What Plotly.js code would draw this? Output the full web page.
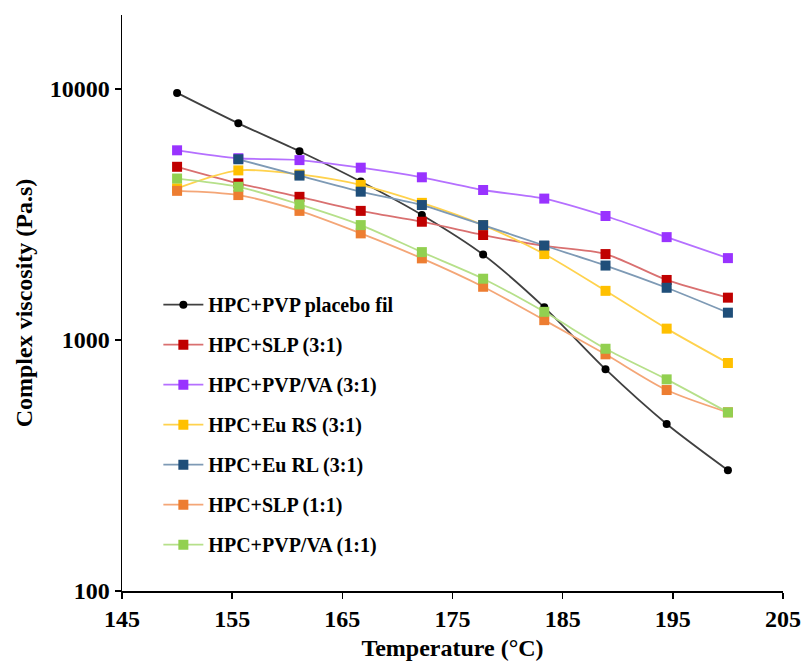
<!DOCTYPE html>
<html>
<head>
<meta charset="utf-8">
<script src="https://cdn.plot.ly/plotly-3.0.1.min.js"></script>
<style>html,body{margin:0;padding:0;background:#fff;}#chart{width:803px;height:664px;}</style>
</head>
<body>
<div id="chart"></div>
<script>
const temperature = [150, 155.56, 161.11, 166.67, 172.22, 177.78, 183.33, 188.89, 194.44, 200];
const seriesNames = ["HPC+PVP placebo fil", "HPC+SLP (3:1)", "HPC+PVP/VA (3:1)", "HPC+Eu RS (3:1)", "HPC+Eu RL (3:1)", "HPC+SLP (1:1)", "HPC+PVP/VA (1:1)"];
const placebo   = [9650, 7300, 5650, 4280, 3150, 2190, 1350, 765, 463, 303];
const slp31     = [4900, 4210, 3720, 3270, 2960, 2620, 2370, 2200, 1735, 1475];
const pvpva31   = [5700, 5300, 5210, 4860, 4450, 3960, 3660, 3120, 2570, 2120];
const euRS31    = [4020, 4740, 4570, 4150, 3520, 2870, 2200, 1570, 1110, 810];
const euRL31    = [null, 5250, 4520, 3900, 3450, 2870, 2380, 1980, 1615, 1285];
const slp11     = [3930, 3780, 3270, 2660, 2115, 1630, 1200, 877, 632, 515];
const pvpva11   = [4400, 4080, 3470, 2870, 2240, 1755, 1295, 923, 697, 515];

const values = [placebo, slp31, pvpva31, euRS31, euRL31, slp11, pvpva11];
const markerColors = ["#000000", "#C00000", "#9933FF", "#FFC000", "#1F4E79", "#ED7D31", "#92D050"];
const lineColors = ["#404040", "#D97070", "#B570FF", "#FFD24D", "#7E9AB5", "#F4A677", "#B6E08A"];

const traces = values.map((v, i) => ({
  x: temperature,
  y: v,
  name: seriesNames[i],
  type: "scatter",
  mode: "lines+markers",
  legendgroup: "g" + i,
  line: {color: lineColors[i], width: 1.8, shape: "spline", smoothing: 0.8},
  marker: {
    color: markerColors[i],
    symbol: i === 0 ? "circle" : "square",
    size: i === 0 ? 8 : 10,
    line: {width: 0}
  },
  connectgaps: false
}));

const fontFam = "'Liberation Serif', 'Times New Roman', serif";
const layout = {
  width: 803, height: 664,
  margin: {l: 122, r: 20, t: 15, b: 73},
  paper_bgcolor: "#ffffff",
  plot_bgcolor: "#ffffff",
  font: {family: fontFam, color: "#000000", size: 20, weight: "bold"},
  showlegend: true,
  legend: {
    x: 0.055, y: 0.531, xanchor: "left", yanchor: "top",
    bgcolor: "rgba(0,0,0,0)",
    font: {family: fontFam, size: 20, color: "#000", weight: "bold"},
    traceorder: "grouped",
    tracegroupgap: 11,
    itemwidth: 40
  },
  xaxis: {
    range: [145, 205],
    tick0: 145, dtick: 10,
    showgrid: false, zeroline: false,
    showline: true, linecolor: "#000", linewidth: 1.5,
    ticks: "outside", ticklen: 6, tickcolor: "#000", tickwidth: 1.5,
    tickfont: {family: fontFam, size: 24, color: "#000", weight: "bold"},
    title: {text: "Temperature (°C)", font: {family: fontFam, size: 24, color: "#000", weight: "bold"}, standoff: 8}
  },
  yaxis: {
    type: "log",
    range: [2, 4.295],
    tickvals: [100, 1000, 10000],
    ticktext: ["100", "1000", "10000"],
    showgrid: false, zeroline: false,
    showline: true, linecolor: "#000", linewidth: 1.5,
    ticks: "outside", ticklen: 6, tickcolor: "#000", tickwidth: 1.5,
    tickfont: {family: fontFam, size: 24, color: "#000", weight: "bold"},
    title: {text: "Complex viscosity (Pa.s)", font: {family: fontFam, size: 24, color: "#000", weight: "bold"}, standoff: 10}
  }
};

Plotly.newPlot("chart", traces, layout, {displayModeBar: false, staticPlot: true});
</script>
</body>
</html>
